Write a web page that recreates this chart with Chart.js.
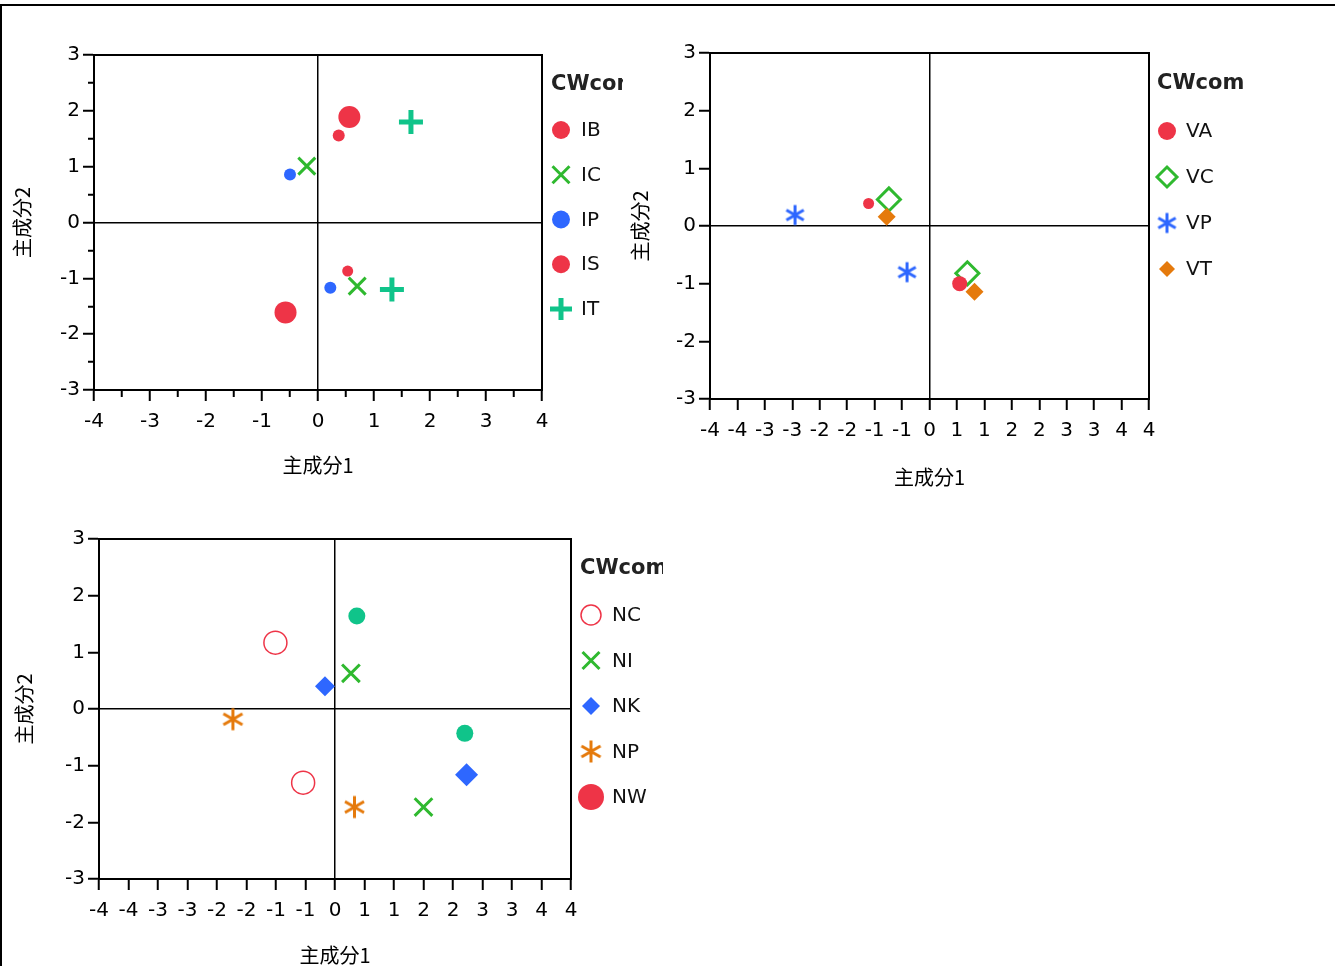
<!DOCTYPE html>
<html>
<head>
<meta charset="utf-8">
<title>主成分</title>
<script src="https://cdn.jsdelivr.net/npm/chart.js@4.4.1/dist/chart.umd.min.js"></script>
<style>
  html, body { margin: 0; padding: 0; background: #fff; overflow: hidden; }
  #frame { position: absolute; left: 0; top: 4px; width: 1400px; height: 1000px;
           border-top: 2px solid #000; border-left: 2px solid #000; }
  canvas { position: absolute; }
</style>
</head>
<body>
<div id="frame"></div>
<canvas id="c1" width="623" height="500" style="left:0;top:0"></canvas>
<canvas id="c2" width="708" height="500" style="left:627px;top:0"></canvas>
<canvas id="c3" width="663" height="470" style="left:0;top:500px"></canvas>
<script>
// ── Data: [主成分1, 主成分2] per point ──
const SERIES_1 = ['IB', 'IC', 'IP', 'IS', 'IT'];
const IB = [[0.56, 1.89], [-0.58, -1.61]];
const IC = [[-0.20, 1.01], [0.70, -1.14]];
const IP = [[-0.50, 0.86], [0.22, -1.17]];
const IS = [[0.37, 1.56], [0.53, -0.87]];
const IT = [[1.66, 1.80], [1.32, -1.20]];

const SERIES_2 = ['VA', 'VC', 'VP', 'VT'];
const VA = [[-1.11, 0.39], [0.55, -1.00]];
const VC = [[-0.74, 0.46], [0.69, -0.82]];
const VP = [[-2.45, 0.19], [-0.41, -0.80]];
const VT = [[-0.78, 0.16], [0.82, -1.14]];

const SERIES_3 = ['NC', 'NI', 'NK', 'NP', 'NW'];
const NC = [[-1.01, 1.17], [-0.54, -1.30]];
const NI = [[0.27, 0.63], [1.50, -1.73]];
const NK = [[-0.17, 0.40], [2.23, -1.16]];
const NP = [[-1.73, -0.18], [0.33, -1.73]];
const NW = [];
const OTHER_3 = [[0.37, 1.64], [2.20, -0.43]];   // teal dots, not in legend

// ── Tick labels ──
const X_LABELS_1 = ['-4', '', '-3', '', '-2', '', '-1', '', '0', '', '1', '', '2', '', '3', '', '4'];
const Y_LABELS_1 = ['-3', '', '-2', '', '-1', '', '0', '', '1', '', '2', '', '3'];
const X_LABELS_HALF = ['-4', '-4', '-3', '-3', '-2', '-2', '-1', '-1', '0', '1', '1', '2', '2', '3', '3', '4', '4'];
const Y_LABELS_INT = ['-3', '-2', '-1', '0', '1', '2', '3'];
const X_TITLE = '主成分1';
const Y_TITLE = '主成分2';
const LEGEND_TITLE = 'CWcom';

// ── Styles ──
const RED = '#ee3447', GREEN = '#2fb92f', BLUE = '#2e67ff', TEAL = '#10c48a', ORANGE = '#e57a0c';
const CLEAR = 'rgba(0,0,0,0)';
const CJK = '"Noto Sans CJK JP", "Noto Sans CJK SC", sans-serif';

Chart.defaults.font.family = '"DejaVu Sans", sans-serif';
Chart.defaults.color = '#000';

function asterisk(color, r, lw) {
  const s = Math.ceil(2 * r + lw + 2);
  const c = document.createElement('canvas');
  c.width = s; c.height = s;
  const g = c.getContext('2d');
  g.strokeStyle = color; g.lineWidth = lw;
  g.translate(s / 2, s / 2);
  for (let k = 0; k < 3; k++) {
    const a = Math.PI / 2 + k * Math.PI / 3;
    g.beginPath();
    g.moveTo(Math.cos(a) * r, Math.sin(a) * r);
    g.lineTo(-Math.cos(a) * r, -Math.sin(a) * r);
    g.stroke();
  }
  return c;
}

const toPts = pairs => pairs.map(([x, y]) => ({ x, y }));

function series(label, pairs, style) {
  return Object.assign({ label, data: toPts(pairs), borderWidth: 0 }, style);
}

// ── Plugins ──
const plotFrame = {
  id: 'plotFrame',
  afterDraw(chart) {
    const { ctx, chartArea: a } = chart;
    ctx.save();
    ctx.strokeStyle = '#000';
    ctx.lineWidth = 2;
    ctx.strokeRect(a.left, a.top, a.right - a.left, a.bottom - a.top);
    ctx.restore();
  }
};

const sideLegend = {
  id: 'sideLegend',
  afterDraw(chart, args, o) {
    const ctx = chart.ctx;
    ctx.save();
    ctx.textBaseline = 'middle';
    ctx.fillStyle = '#222';
    ctx.font = 'bold 21px "DejaVu Sans"';
    ctx.fillText(o.title, o.x, o.titleY);
    o.items.forEach((it, i) => {
      const ds = chart.data.datasets[it.index];
      const y = o.top + i * o.gap;
      ctx.fillStyle = ds.backgroundColor;
      ctx.strokeStyle = ds.borderColor;
      ctx.lineWidth = ds.borderWidth;
      Chart.helpers.drawPoint(ctx, {
        pointStyle: ds.pointStyle, rotation: 0, radius: it.r, borderWidth: ds.borderWidth
      }, o.markerX, y);
      ctx.fillStyle = '#111';
      ctx.font = '20px "DejaVu Sans"';
      ctx.fillText(ds.label, o.textX, y + 1);
    });
    ctx.restore();
  }
};

function axis(dir, a) {
  const minor = ctx => a.minor && ctx.tick && Math.abs(ctx.tick.value % 1) > 0.01;
  return {
    type: 'linear',
    position: dir === 'x' ? 'bottom' : 'left',
    min: a.min, max: a.max,
    afterFit: s => { if (dir === 'x') s.height = a.size; else s.width = a.size; },
    border: { color: '#000', width: 2 },
    grid: {
      color: ctx => (ctx.tick && ctx.tick.value === 0 ? '#000' : CLEAR),
      lineWidth: 1.5,
      tickColor: '#000',
      tickWidth: 2,
      tickLength: 11,
      tickBorderDash: ctx => (minor(ctx) ? (dir === 'x' ? [6, 20] : [0, 5, 6, 20]) : [])
    },
    ticks: {
      stepSize: a.step, autoSkip: false, maxRotation: 0, minRotation: 0,
      padding: dir === 'x' ? 9 : 3, color: '#000', font: { size: 20 },
      callback: (v, i) => a.labels[i]
    },
    title: {
      display: true, text: a.title, color: '#000', font: { family: CJK, size: 20 },
      padding: dir === 'x' ? { top: 0, bottom: 0 } : { top: a.titlePad, bottom: 0 }
    }
  };
}

function buildPanel(id, cfg) {
  return new Chart(document.getElementById(id), {
    type: 'scatter',
    data: { datasets: cfg.datasets },
    options: {
      responsive: false,
      animation: false,
      layout: { padding: cfg.padding },
      plugins: { legend: { display: false }, tooltip: { enabled: false }, sideLegend: cfg.legend },
      scales: { x: axis('x', cfg.x), y: axis('y', cfg.y) }
    },
    plugins: [plotFrame, sideLegend]
  });
}

// ── Panel 1 ──
buildPanel('c1', {
  padding: { left: 0, top: 55, right: 81, bottom: 23 },
  x: { min: -4, max: 4, step: 0.5, minor: true, labels: X_LABELS_1, size: 87, title: X_TITLE },
  y: { min: -3, max: 3, step: 0.5, minor: true, labels: Y_LABELS_1, size: 94, title: Y_TITLE, titlePad: 10 },
  datasets: [
    series(SERIES_1[0], IB, { pointStyle: 'circle', backgroundColor: RED, borderColor: RED, pointRadius: 11 }),
    series(SERIES_1[1], IC, { pointStyle: 'crossRot', backgroundColor: GREEN, borderColor: GREEN, borderWidth: 3, pointRadius: 12 }),
    series(SERIES_1[2], IP, { pointStyle: 'circle', backgroundColor: BLUE, borderColor: BLUE, pointRadius: 6 }),
    series(SERIES_1[3], IS, { pointStyle: 'circle', backgroundColor: RED, borderColor: RED, pointRadius: [6, 5.5] }),
    series(SERIES_1[4], IT, { pointStyle: 'cross', backgroundColor: TEAL, borderColor: TEAL, borderWidth: 5, pointRadius: 12 })
  ],
  legend: {
    title: LEGEND_TITLE, x: 551, titleY: 85, markerX: 561, textX: 581, top: 130, gap: 44.75,
    items: [{ index: 0, r: 9 }, { index: 1, r: 12 }, { index: 2, r: 9 }, { index: 3, r: 9 }, { index: 4, r: 11 }]
  }
});

// ── Panel 2 ──
buildPanel('c2', {
  padding: { left: 0, top: 53, right: 186, bottom: 11 },
  x: { min: -4, max: 4, step: 0.5, labels: X_LABELS_HALF, size: 90, title: X_TITLE },
  y: { min: -3, max: 3, step: 1, labels: Y_LABELS_INT, size: 83, title: Y_TITLE, titlePad: 1 },
  datasets: [
    series(SERIES_2[0], VA, { pointStyle: 'circle', backgroundColor: RED, borderColor: RED, pointRadius: [5.5, 7.5], order: 0 }),
    series(SERIES_2[1], VC, { pointStyle: 'rectRot', backgroundColor: CLEAR, borderColor: GREEN, borderWidth: 3, pointRadius: 11.5, order: 3 }),
    series(SERIES_2[2], VP, { pointStyle: asterisk(BLUE, 10, 3), backgroundColor: BLUE, borderColor: BLUE, order: 2 }),
    series(SERIES_2[3], VT, { pointStyle: 'rectRot', backgroundColor: ORANGE, borderColor: ORANGE, pointRadius: 9, order: 1 })
  ],
  legend: {
    title: LEGEND_TITLE, x: 530, titleY: 84, markerX: 540, textX: 559, top: 131, gap: 46,
    items: [{ index: 0, r: 9 }, { index: 1, r: 10 }, { index: 2, r: 10 }, { index: 3, r: 8 }]
  }
});

// ── Panel 3 ──
buildPanel('c3', {
  padding: { left: 0, top: 39, right: 92, bottom: 3 },
  x: { min: -4, max: 4, step: 0.5, labels: X_LABELS_HALF, size: 88, title: X_TITLE },
  y: { min: -3, max: 3, step: 1, labels: Y_LABELS_INT, size: 99, title: Y_TITLE, titlePad: 12 },
  datasets: [
    series(SERIES_3[0], NC, { pointStyle: 'circle', backgroundColor: CLEAR, borderColor: RED, borderWidth: 1.5, pointRadius: 11.5 }),
    series(SERIES_3[1], NI, { pointStyle: 'crossRot', backgroundColor: GREEN, borderColor: GREEN, borderWidth: 3, pointRadius: 12.5 }),
    series(SERIES_3[2], NK, { pointStyle: 'rectRot', backgroundColor: BLUE, borderColor: BLUE, pointRadius: [10, 11.5] }),
    series(SERIES_3[3], NP, { pointStyle: asterisk(ORANGE, 11, 3), backgroundColor: ORANGE, borderColor: ORANGE }),
    series(SERIES_3[4], NW, { pointStyle: 'circle', backgroundColor: RED, borderColor: RED, pointRadius: 13 }),
    series('', OTHER_3, { pointStyle: 'circle', backgroundColor: TEAL, borderColor: TEAL, pointRadius: 8.5 })
  ],
  legend: {
    title: LEGEND_TITLE, x: 580, titleY: 69, markerX: 591, textX: 612, top: 115, gap: 45.5,
    items: [{ index: 0, r: 10 }, { index: 1, r: 12 }, { index: 2, r: 9 }, { index: 3, r: 11 }, { index: 4, r: 13 }]
  }
});
</script>
</body>
</html>
